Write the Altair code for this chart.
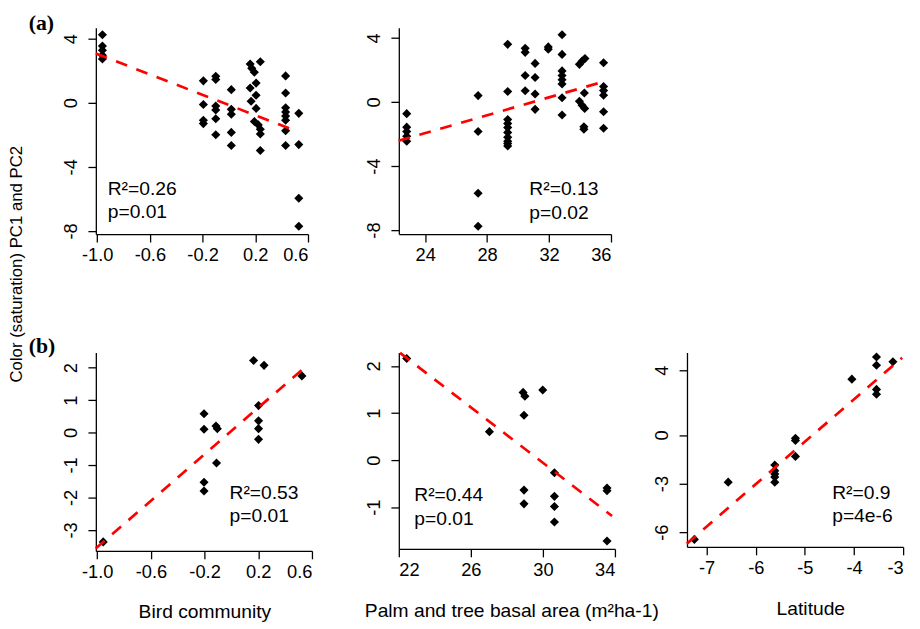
import altair as alt
import pandas as pd

# ---------------- data ----------------
# (a) left: bird community vs colour PC
A1_X = [-0.96, -0.96, -0.96, -0.96, -0.96,
        -0.194, -0.194, -0.194, -0.194,
        -0.10, -0.10, -0.10, -0.10, -0.10, -0.10,
        0.018, 0.018, 0.018, 0.018, 0.018,
        0.238, 0.161, 0.173, 0.193, 0.206, 0.161, 0.206, 0.168, 0.206, 0.193, 0.223, 0.238, 0.238, 0.238,
        0.43, 0.43, 0.43, 0.43, 0.43, 0.43, 0.43, 0.43,
        0.53, 0.53, 0.53, 0.53]
A1_Y = [4.25, 3.55, 3.28, 2.97, 2.73,
        1.37, -0.11, -1.09, -1.30,
        1.65, 1.45, -0.20, -0.45, -1.00, -2.00,
        0.82, -0.41, -0.72, -1.85, -2.67,
        2.56, 2.42, 2.15, 1.91, 1.23, 0.92, 0.47, 0.10, -0.35, -1.17, -1.38, -1.65, -1.95, -2.98,
        1.68, 0.61, -0.31, -0.58, -0.83, -1.09, -1.75, -2.67,
        -0.66, -2.61, -5.96, -7.71]
A1_FIT_X = [-1.01, 0.517]
A1_FIT_Y = [3.08, -1.79]

# (a) right: palm and tree basal area vs colour PC
A2_X = [22.81, 22.81, 22.81, 22.81, 22.81,
        27.42, 27.42, 27.42, 27.42,
        29.33, 29.33, 29.33, 29.33, 29.33, 29.33, 29.33, 29.33, 29.33, 29.33,
        30.46, 30.46, 30.46, 30.46,
        31.10, 31.10, 31.10, 31.10,
        31.95, 31.95,
        32.84, 32.84, 32.84, 32.84, 32.84, 32.84, 32.84, 32.84,
        33.96, 34.13, 34.32, 34.28, 33.96, 34.13, 34.30, 34.25, 34.25,
        35.52, 35.52, 35.52, 35.52, 35.52, 35.52]
A2_Y = [-0.73, -1.57, -1.85, -2.14, -2.45,
        0.40, -1.84, -5.70, -7.76,
        3.60, 0.65, -1.10, -1.35, -1.60, -1.90, -2.20, -2.45, -2.60, -2.75,
        3.35, 3.10, 1.65, 0.70,
        2.41, 1.53, 0.50, -0.46,
        3.44, 3.30,
        4.20, 2.97, 1.94, 1.65, 1.39, 1.12, 0.26, -0.81,
        2.35, 2.55, 2.72, 0.56, 0.05, -0.20, -0.40, -1.55, -1.70,
        2.45, 0.97, 0.71, 0.42, -0.61, -1.64]
A2_FIT_X = [22.28, 35.34]
A2_FIT_Y = [-2.42, 1.22]

# (b) left: bird community
B1_X = [-0.955, -0.204, -0.204, -0.204, -0.204, -0.115, -0.105, -0.111,
        0.202, 0.202, 0.202, 0.202, 0.165, 0.243, 0.525]
B1_Y = [-3.37, 0.58, 0.10, -1.53, -1.80, 0.20, 0.12, -0.94,
        0.83, 0.36, 0.12, -0.21, 2.22, 2.07, 1.745]
B1_FIT_X = [-1.011, 0.578]
B1_FIT_Y = [-3.575, 2.12]

# (b) middle: palm and tree basal area
B2_X = [22.44, 27.03, 28.90, 29.00, 28.95, 28.95, 28.95, 29.99,
        30.64, 30.64, 30.64, 30.64, 33.56, 33.56, 33.56]
B2_Y = [2.16, 0.606, 1.44, 1.36, 0.955, -0.635, -0.928, 1.49,
        -0.266, -0.768, -0.984, -1.312, -0.59, -0.65, -1.716]
B2_FIT_X = [22.07, 33.84]
B2_FIT_Y = [2.28, -1.186]

# (b) right: latitude
B3_X = [-7.25, -6.561, -5.613, -5.613, -5.613, -5.613, -5.613,
        -5.192, -5.192, -5.192, -4.043, -3.542, -3.542, -3.542, -3.542, -3.208]
B3_Y = [-6.45, -2.91, -1.85, -2.20, -2.40, -2.60, -2.92,
        -0.20, -0.33, -1.32, 3.452, 4.82, 4.31, 2.82, 2.52, 4.53]
B3_FIT_X = [-7.403, -3.021]
B3_FIT_Y = [-6.71, 4.773]

# statistics labels
STATS = {
    "a1": ["R²=0.26", "p=0.01"],
    "a2": ["R²=0.13", "p=0.02"],
    "b1": ["R²=0.53", "p=0.01"],
    "b2": ["R²=0.44", "p=0.01"],
    "b3": ["R²=0.9", "p=4e-6"],
}

# tick values
A1_XTICKS = [-1.0, -0.6, -0.2, 0.2, 0.6]
A_YTICKS = [-8, -4, 0, 4]
A2_XTICKS = [24, 28, 32, 36]
B1_XTICKS = [-1.0, -0.6, -0.2, 0.2, 0.6]
B1_YTICKS = [-3, -2, -1, 0, 1, 2]
B2_XTICKS = [22, 26, 30, 34]
B2_YTICKS = [-1, 0, 1, 2]
B3_XTICKS = [-7, -6, -5, -4, -3]
B3_YTICKS = [-6, -3, 0, 4]

Y_TITLE = "Color (saturation) PC1 and PC2"

# ---------------- styling ----------------
FONT = "Liberation Sans"
SERIF = "Liberation Serif"
MINUS_FIX = "replace(datum.label, '\u2212', '-')"


def panel(px, py, fx, fy, stats, ann_xy, xdom, ydom, xticks, yticks, xfmt,
          w, h, xtitle=None, xtitle_x=None, ytitle=None, label=None, label_dy=0):
    pts = pd.DataFrame({"x": px, "y": py})
    fit = pd.DataFrame({"x": fx, "y": fy})
    ann = pd.DataFrame({"x": [ann_xy[0], ann_xy[0]], "y": [ann_xy[1], ann_xy[2]], "t": stats})

    xs = alt.Scale(domain=xdom, nice=False, zero=False)
    ys = alt.Scale(domain=ydom, nice=False, zero=False)

    xaxis_args = dict(values=xticks, format=xfmt, labelExpr=MINUS_FIX)
    if xtitle:
        xaxis_args.update(title=xtitle, titleY=68, titleBaseline="alphabetic",
                          titleX=xtitle_x, titleAlign="center")
    else:
        xaxis_args.update(title=None)
    yaxis_args = dict(values=yticks, format="d", labelExpr=MINUS_FIX, labelAngle=-90)
    if ytitle:
        yaxis_args.update(title=ytitle, titleX=-75, titleY=239, titleAngle=-90,
                          titleAlign="center", titleBaseline="alphabetic", titleFontSize=17)
    else:
        yaxis_args.update(title=None)

    points = alt.Chart(pts).mark_point(shape="diamond", filled=True, color="black",
                                       size=85, opacity=1).encode(
        x=alt.X("x:Q", scale=xs, axis=alt.Axis(**xaxis_args)),
        y=alt.Y("y:Q", scale=ys, axis=alt.Axis(**yaxis_args)),
    )
    line = alt.Chart(fit).mark_line(color="#ff0000", strokeWidth=2.7,
                                    strokeDash=[12, 10]).encode(
        x=alt.X("x:Q", scale=xs), y=alt.Y("y:Q", scale=ys))
    text = alt.Chart(ann).mark_text(align="left", baseline="alphabetic", font=FONT,
                                    fontSize=19.5, color="black").encode(
        x=alt.X("x:Q", scale=xs), y=alt.Y("y:Q", scale=ys), text="t:N")

    layer = alt.layer(points, line, text).properties(width=w, height=h)
    if label:
        layer = layer.properties(title=alt.TitleParams(
            text=label, anchor="start", frame="group", orient="top", offset=0,
            dx=-68, dy=label_dy, font=SERIF, fontSize=22, fontWeight="bold",
            baseline="alphabetic", color="black"))
    return layer


def spacer(w, h):
    """Invisible cell used only to set the gap between panels."""
    return alt.Chart(pd.DataFrame({"s": [0]})).mark_point(opacity=0).encode(
        x=alt.value(0), y=alt.value(0)).properties(width=w, height=h)


a1 = panel(A1_X, A1_Y, A1_FIT_X, A1_FIT_Y, STATS["a1"], (-0.92, -5.74, -7.21),
           [-1.01, 0.6], [-8.2, 4.68], A1_XTICKS, A_YTICKS, ".1f", 215, 209,
           ytitle=Y_TITLE, label="(a)", label_dy=24.5)
a2 = panel(A2_X, A2_Y, A2_FIT_X, A2_FIT_Y, STATS["a2"], (30.73, -5.80, -7.31),
           [22.3, 36], [-8.25, 4.63], A2_XTICKS, A_YTICKS, "d", 215, 209)
b1 = panel(B1_X, B1_Y, B1_FIT_X, B1_FIT_Y, STATS["b1"], (-0.014, -2.055, -2.763),
           [-1.01, 0.6], [-3.647, 2.465], B1_XTICKS, B1_YTICKS, ".1f", 219, 201,
           xtitle="Bird community", xtitle_x=110, label="(b)", label_dy=22)
b2 = panel(B2_X, B2_Y, B2_FIT_X, B2_FIT_Y, STATS["b2"], (22.86, -0.857, -1.368),
           [22, 34], [-1.885, 2.287], B2_XTICKS, B2_YTICKS, "d", 219, 199,
           xtitle="Palm and tree basal area (m²ha-1)", xtitle_x=114)
b3 = panel(B3_X, B3_Y, B3_FIT_X, B3_FIT_Y, STATS["b3"], (-4.444, -3.969, -5.39),
           [-7.40, -3.0], [-6.915, 5.098], B3_XTICKS, B3_YTICKS, "d", 219, 197,
           xtitle="Latitude", xtitle_x=125)

chart = alt.concat(
    a1, spacer(88, 209), a2, spacer(1, 209), spacer(1, 209),
    b1, spacer(81, 1), b2, spacer(73, 1), b3,
    columns=5, spacing={"row": 120, "column": 0}, bounds="flush", align="none",
).properties(
    padding={"left": 0, "top": 0, "right": 4, "bottom": 0},
    background="white",
).configure_view(stroke=None).configure_axis(
    grid=False,
    domainColor="black", domainWidth=1.3,
    tickColor="black", tickWidth=1.3, tickSize=8,
    labelFont=FONT, labelFontSize=18.5, labelColor="black", labelPadding=4,
    titleFont=FONT, titleFontSize=19.5, titleFontWeight="normal", titleColor="black",
).configure_axisLeft(labelPadding=8)

chart.save("out.html", embed_options={"renderer": "svg", "actions": False})
